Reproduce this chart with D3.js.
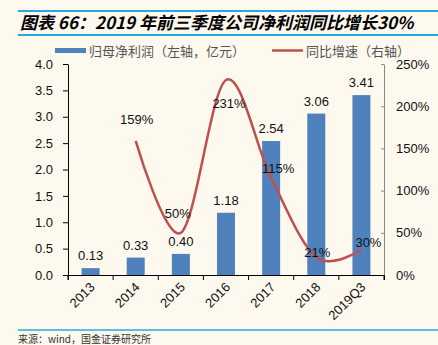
<!DOCTYPE html>
<html>
<head>
<meta charset="utf-8">
<script src="https://cdn.jsdelivr.net/npm/d3@7"></script>
<style>
  body { margin: 0; background: #fdf9ef; }
  svg { display: block; font-family: "Liberation Sans", Arial, "Noto Sans CJK SC", sans-serif; }
</style>
</head>
<body>
<script>
const width = 438
const height = 345
const margin = ({top: 64, right: 54, bottom: 70, left: 68})

const years = ["2013", "2014", "2015", "2016", "2017", "2018", "2019Q3"]
const profit = [0.13, 0.33, 0.40, 1.18, 2.54, 3.06, 3.41]
const growth = [null, 159, 50, 231, 115, 21, 30]
const leftTicks = [0, 0.5, 1, 1.5, 2, 2.5, 3, 3.5, 4]
const rightTicks = [0, 50, 100, 150, 200, 250]

// label nudges for the growth line, as Excel placed them
const growthLabelShift = [null, [1, -22], [-3, -20], [3, 23], [7, -10], [1, -5], [7, -8]]

const barColor = "#4f81bd"
const lineColor = "#c0504d"
const rule = "#29a8e0"

const svg = d3.select("body").append("svg")
    .attr("width", width)
    .attr("height", height)

// title block
svg.append("line").attr("x1", 18).attr("x2", width).attr("y1", 11).attr("y2", 11)
    .attr("stroke", rule).attr("stroke-width", 2)
svg.append("line").attr("x1", 18).attr("x2", width).attr("y1", 35).attr("y2", 35)
    .attr("stroke", rule).attr("stroke-width", 2)
svg.append("text")
    .attr("x", 20).attr("y", 29)
    .attr("font-size", 17).attr("font-weight", "bold").attr("font-style", "italic")
    .attr("font-family", "'Noto Sans CJK SC', sans-serif")
    .text("图表 66：2019 年前三季度公司净利润同比增长30%")

// scales
const xOuter = d3.scaleBand()
    .domain(years)
    .range([margin.left, width - margin.right])

const y = d3.scaleLinear()
    .domain([0, 4])
    .range([height - margin.bottom, margin.top])

const y2 = d3.scaleLinear()
    .domain([0, 250])
    .range([height - margin.bottom, margin.top])

const cx = d => xOuter(d) + xOuter.bandwidth() / 2

// bars
svg.append("g").attr("fill", barColor)
    .selectAll("rect")
    .data(profit)
    .join("rect")
        .attr("x", (d, i) => cx(years[i]) - 9)
        .attr("width", 18)
        .attr("y", d => y(d))
        .attr("height", d => y(0) - y(d))

svg.append("g")
    .attr("font-size", 13).attr("text-anchor", "middle").attr("fill", "#111")
    .selectAll("text")
    .data(profit)
    .join("text")
        .attr("x", (d, i) => cx(years[i]))
        .attr("y", d => y(d) - 8)
        .text(d => d.toFixed(2))

// axes
const xAxis = g => g
    .attr("transform", `translate(0,${height - margin.bottom})`)
    .call(d3.axisBottom(xOuter).tickSizeOuter(0).tickSize(5).tickFormat(""))
    .call(g => g.selectAll(".tick line").attr("transform", `translate(${-xOuter.bandwidth() / 2},0)`))

const yAxis = g => g
    .attr("transform", `translate(${margin.left},0)`)
    .call(d3.axisLeft(y).tickValues(leftTicks).tickFormat(d3.format(".1f")).tickSize(5).tickSizeOuter(0).tickPadding(10))
    .call(g => g.selectAll("text").attr("font-size", 13).attr("fill", "#111"))

const y2Axis = g => g
    .attr("transform", `translate(${width - margin.right},0)`)
    .call(d3.axisRight(y2).tickValues(rightTicks).tickFormat(d => d + "%").tickSize(-3).tickSizeOuter(0).tickPadding(12))
    .call(g => g.select(".domain").attr("stroke", "#888"))
    .call(g => g.selectAll(".tick line").attr("stroke", "#888"))
    .call(g => g.selectAll("text").attr("font-size", 13).attr("fill", "#111"))

svg.append("g").call(y2Axis)
svg.append("g").call(yAxis)
svg.append("g").call(xAxis)
    .call(g => g.append("line")
        .attr("x1", width - margin.right).attr("x2", width - margin.right)
        .attr("y1", 0).attr("y2", 5).attr("stroke", "currentColor"))

svg.append("g")
    .attr("font-size", 13).attr("text-anchor", "end").attr("fill", "#111")
    .selectAll("text")
    .data(years)
    .join("text")
        .attr("transform", d => `translate(${cx(d) + 5},${height - margin.bottom + 13}) rotate(-45)`)
        .text(d => d)

// growth line
const pts = years.map((d, i) => [cx(d), growth[i]]).filter(p => p[1] !== null)
const line = d3.line()
    .x(p => p[0])
    .y(p => y2(p[1]))
    .curve(d3.curveCatmullRom.alpha(0))

svg.append("path")
    .datum(pts)
    .attr("fill", "none")
    .attr("stroke", lineColor)
    .attr("stroke-width", 2.5)
    .attr("d", line)

svg.append("g")
    .attr("font-size", 13).attr("text-anchor", "middle").attr("fill", "#111")
    .selectAll("text")
    .data(growth.map((d, i) => ({d, i})).filter(o => o.d !== null))
    .join("text")
        .attr("x", o => cx(years[o.i]) + growthLabelShift[o.i][0])
        .attr("y", o => y2(o.d) + growthLabelShift[o.i][1] + 5)
        .text(o => o.d + "%")

// legend
const legend = svg.append("g").attr("font-size", 13).attr("fill", "#555")
    .attr("font-family", "'Noto Sans CJK SC', sans-serif")
legend.append("rect").attr("x", 55).attr("y", 48).attr("width", 31).attr("height", 5).attr("fill", barColor)
legend.append("text").attr("x", 89).attr("y", 56).text("归母净利润（左轴，亿元）")
legend.append("line").attr("x1", 272).attr("x2", 303).attr("y1", 50.5).attr("y2", 50.5)
    .attr("stroke", lineColor).attr("stroke-width", 2.5)
legend.append("text").attr("x", 306).attr("y", 56).text("同比增速（右轴）")

// source
svg.append("line").attr("x1", 18).attr("x2", width).attr("y1", 330).attr("y2", 330)
    .attr("stroke", rule).attr("stroke-width", 1.5)
svg.append("text")
    .attr("x", 18).attr("y", 343)
    .attr("font-size", 10).attr("fill", "#333")
    .attr("font-family", "'Noto Sans CJK SC', sans-serif")
    .text("来源：wind，国金证券研究所")
</script>
</body>
</html>
